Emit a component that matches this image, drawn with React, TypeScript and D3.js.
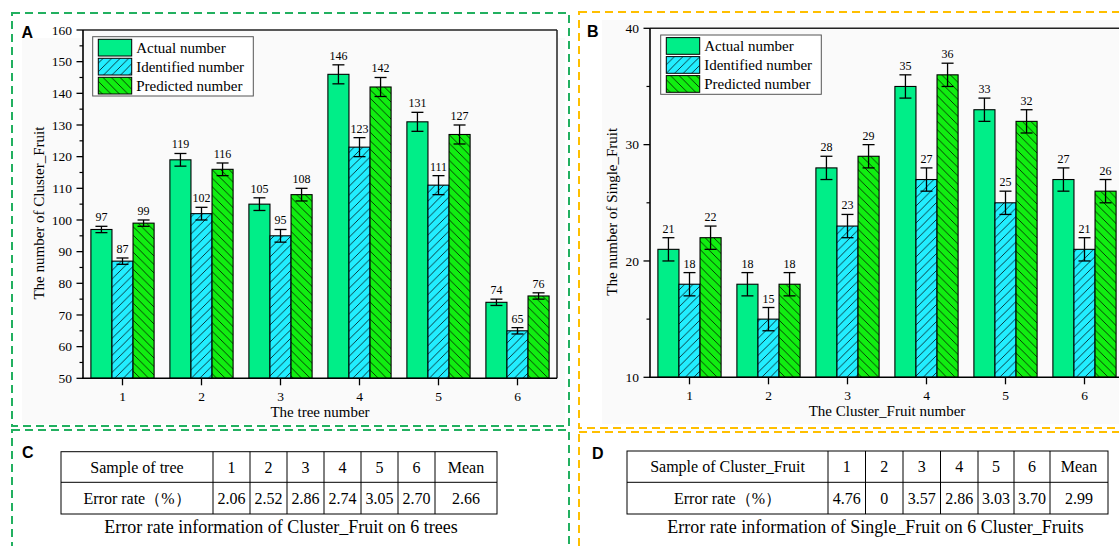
import React from "react";
import * as d3 from "d3";

// ---------- data ----------
const categories = ["1", "2", "3", "4", "5", "6"];
const seriesNames = ["Actual number", "Identified number", "Predicted number"];

const clusterActual = [97, 119, 105, 146, 131, 74];
const clusterIdentified = [87, 102, 95, 123, 111, 65];
const clusterPredicted = [99, 116, 108, 142, 127, 76];
const clusterActualErr = [1, 2, 2, 3, 3, 1];
const clusterIdentifiedErr = [1, 2, 2, 3, 3, 1];
const clusterPredictedErr = [1, 2, 2, 3, 3, 1];
const clusterTicks = [50, 60, 70, 80, 90, 100, 110, 120, 130, 140, 150, 160];

const singleActual = [21, 18, 28, 35, 33, 27];
const singleIdentified = [18, 15, 23, 27, 25, 21];
const singlePredicted = [22, 18, 29, 36, 32, 26];
const singleActualErr = [1, 1, 1, 1, 1, 1];
const singleIdentifiedErr = [1, 1, 1, 1, 1, 1];
const singlePredictedErr = [1, 1, 1, 1, 1, 1];
const singleTicks = [10, 20, 30, 40];

const tableCHeader = ["Sample of tree", "1", "2", "3", "4", "5", "6", "Mean"];
const tableCRow = ["Error rate（%）", "2.06", "2.52", "2.86", "2.74", "3.05", "2.70", "2.66"];
const tableDHeader = ["Sample of Cluster_Fruit", "1", "2", "3", "4", "5", "6", "Mean"];
const tableDRow = ["Error rate（%）", "4.76", "0", "3.57", "2.86", "3.03", "3.70", "2.99"];
const captionC = "Error rate information of Cluster_Fruit on 6 trees";
const captionD = "Error rate information of Single_Fruit on 6 Cluster_Fruits";

// ---------- style ----------
const SERIF = '"Times New Roman", "Liberation Serif", "DejaVu Serif", serif';
const SANS = 'Arial, "Liberation Sans", Helvetica, sans-serif';
const fills = ["#00EE88", "url(#hatchUp)", "url(#hatchDown)"];
const GREEN_BORDER = "#22B060";
const YELLOW_BORDER = "#FFBF00";
const BG = "#fafafa";

type Box = { left: number; right: number; top: number; bottom: number };

function Legend({ x, y }: { x: number; y: number }) {
  const w = 160.6;
  const h = 59.3;
  return (
    <g>
      <rect x={x} y={y} width={w} height={h} fill="#fff" stroke="#555" strokeWidth={1} />
      {seriesNames.map((name, i) => {
        const ry = y + 2.6 + i * 19;
        return (
          <g key={name}>
            <rect x={x + 5.6} y={ry} width={33.4} height={16.7} fill={fills[i]} stroke="#000" strokeWidth={1} />
            <text x={x + 43.5} y={ry + 13.3} fontFamily={SERIF} fontSize={15} fill="#000">
              {name}
            </text>
          </g>
        );
      })}
    </g>
  );
}

function BarChart(props: {
  series: number[][];
  errors: number[][];
  domain: [number, number];
  ticks: number[];
  box: Box;
  yTitle: string;
  xTitle: string;
  yTitleX: number;
  legend: [number, number];
}) {
  const { series, errors, domain, ticks, box, yTitle, xTitle, yTitleX, legend } = props;
  const { left, right, top, bottom } = box;
  const x = d3.scaleBand<string>().domain(categories).range([left, right]).padding(0);
  const bw = x.bandwidth();
  const inner = d3.scaleBand<string>().domain(seriesNames).range([bw * 0.1, bw * 0.9]).padding(0);
  const y = d3.scaleLinear().domain(domain).range([bottom, top]);
  const minor = ticks.slice(0, -1).map((t, i) => (t + ticks[i + 1]) / 2);
  const cap = 6;

  return (
    <g>
      <rect x={left} y={top} width={right - left} height={bottom - top} fill={BG} />
      {categories.map((c, ci) =>
        seriesNames.map((s, si) => {
          const v = series[si][ci];
          const e = errors[si][ci];
          const bx = (x(c) as number) + (inner(s) as number);
          const cx = bx + inner.bandwidth() / 2;
          return (
            <g key={c + s}>
              <rect
                x={bx}
                y={y(v)}
                width={inner.bandwidth()}
                height={bottom - y(v)}
                fill={fills[si]}
                stroke="#000"
                strokeWidth={1.1}
              />
              <g stroke="#000" strokeWidth={1.3}>
                <line x1={cx} x2={cx} y1={y(v + e)} y2={y(v - e)} />
                <line x1={cx - cap} x2={cx + cap} y1={y(v + e)} y2={y(v + e)} />
                <line x1={cx - cap} x2={cx + cap} y1={y(v - e)} y2={y(v - e)} />
              </g>
              <text x={cx} y={y(v + e) - 5} textAnchor="middle" fontFamily={SERIF} fontSize={12} fill="#000">
                {v}
              </text>
            </g>
          );
        })
      )}
      {/* frame */}
      <line x1={left} x2={right} y1={top} y2={top} stroke="#222" strokeWidth={1.5} />
      <line x1={right} x2={right} y1={top} y2={bottom} stroke="#222" strokeWidth={1.5} />
      <line x1={left} x2={left} y1={top} y2={bottom + 0.75} stroke="#000" strokeWidth={1.6} />
      <line x1={left - 0.75} x2={right} y1={bottom} y2={bottom} stroke="#000" strokeWidth={1.6} />
      {/* y ticks */}
      {ticks.map((t) => (
        <g key={"yt" + t}>
          <line x1={left - 6.5} x2={left} y1={y(t)} y2={y(t)} stroke="#000" strokeWidth={1.3} />
          <text x={left - 11} y={y(t)} dy="0.35em" textAnchor="end" fontFamily={SERIF} fontSize={13.5} fill="#000">
            {t}
          </text>
        </g>
      ))}
      {minor.map((t) => (
        <line key={"ym" + t} x1={left - 3.5} x2={left} y1={y(t)} y2={y(t)} stroke="#000" strokeWidth={1.2} />
      ))}
      {/* x ticks */}
      {categories.map((c) => {
        const cx = (x(c) as number) + bw / 2;
        return (
          <g key={"xt" + c}>
            <line x1={cx} x2={cx} y1={bottom} y2={bottom + 7} stroke="#000" strokeWidth={1.3} />
            <text x={cx} y={bottom + 22.5} textAnchor="middle" fontFamily={SERIF} fontSize={13.5} fill="#000">
              {c}
            </text>
          </g>
        );
      })}
      <text x={(left + right) / 2} y={bottom + 38.5} textAnchor="middle" fontFamily={SERIF} fontSize={15} fill="#000">
        {xTitle}
      </text>
      <text
        transform={`translate(${yTitleX},${(top + bottom) / 2 + 9}) rotate(-90)`}
        textAnchor="middle"
        fontFamily={SERIF}
        fontSize={15}
        fill="#000"
      >
        {yTitle}
      </text>
      <Legend x={legend[0]} y={legend[1]} />
    </g>
  );
}

function Table(props: {
  header: string[];
  row: string[];
  edges: number[];
  rows: number[];
  caption: string;
  captionX: number;
  captionY: number;
}) {
  const { header, row, edges, rows, caption, captionX, captionY } = props;
  const left = edges[0];
  const right = edges[edges.length - 1];
  return (
    <g>
      <rect x={left} y={rows[0]} width={right - left} height={rows[2] - rows[0]} fill="#fff" stroke="#000" strokeWidth={1} />
      <line x1={left} x2={right} y1={rows[1]} y2={rows[1]} stroke="#000" strokeWidth={1} />
      {edges.slice(1, -1).map((e, i) => (
        <line key={i} x1={e} x2={e} y1={rows[0]} y2={rows[2]} stroke="#000" strokeWidth={1} />
      ))}
      {[header, row].map((cells, ri) =>
        cells.map((t, ci) => (
          <text
            key={ri + "-" + ci}
            x={(edges[ci] + edges[ci + 1]) / 2}
            y={(rows[ri] + rows[ri + 1]) / 2 + 5.5}
            textAnchor="middle"
            fontFamily={SERIF}
            fontSize={16}
            fill="#000"
          >
            {t}
          </text>
        ))
      )}
      <text x={captionX} y={captionY} textAnchor="middle" fontFamily={SERIF} fontSize={18} fill="#000">
        {caption}
      </text>
    </g>
  );
}

export default function App() {
  const W = 1119;
  const H = 546;
  return (
    <svg
      width={W}
      height={H}
      viewBox={`0 0 ${W} ${H}`}
      style={{ position: "absolute", left: 0, top: 0, background: "#fff" }}
    >
      <defs>
        <pattern id="hatchUp" patternUnits="userSpaceOnUse" width={8.5} height={8.5}>
          <rect width={8.5} height={8.5} fill="#22EEFF" />
          <path d="M-2,2 L2,-2 M0,8.5 L8.5,0 M6.5,10.5 L10.5,6.5" stroke="#000" strokeWidth={0.75} />
        </pattern>
        <pattern id="hatchDown" patternUnits="userSpaceOnUse" width={8.5} height={8.5}>
          <rect width={8.5} height={8.5} fill="#11EE11" />
          <path d="M-2,6.5 L2,10.5 M0,0 L8.5,8.5 M6.5,-2 L10.5,2" stroke="#000" strokeWidth={0.75} />
        </pattern>
      </defs>

      {/* panel backgrounds */}
      <rect x={22} y={38} width={543} height={386} fill={BG} />
      <rect x={602} y={20} width={517} height={404} fill={BG} />

      {/* dashed panel borders */}
      <rect x={12} y={13} width={557} height={413} fill="none" stroke={GREEN_BORDER} strokeWidth={2} strokeDasharray="8 5" />
      <rect x={12} y={430} width={557} height={140} fill="none" stroke={GREEN_BORDER} strokeWidth={2} strokeDasharray="8 5" />
      <rect x={579} y={12} width={580} height={416} fill="none" stroke={YELLOW_BORDER} strokeWidth={2} strokeDasharray="8 5" />
      <rect x={579} y={432} width={580} height={140} fill="none" stroke={YELLOW_BORDER} strokeWidth={2} strokeDasharray="8 5" />

      <BarChart
        series={[clusterActual, clusterIdentified, clusterPredicted]}
        errors={[clusterActualErr, clusterIdentifiedErr, clusterPredictedErr]}
        domain={[50, 160]}
        ticks={clusterTicks}
        box={{ left: 83, right: 557, top: 30, bottom: 378.3 }}
        yTitle="The number of Cluster_Fruit"
        xTitle="The tree number"
        yTitleX={43.5}
        legend={[92.7, 36.7]}
      />
      <BarChart
        series={[singleActual, singleIdentified, singlePredicted]}
        errors={[singleActualErr, singleIdentifiedErr, singlePredictedErr]}
        domain={[10, 40]}
        ticks={singleTicks}
        box={{ left: 650, right: 1124, top: 28.3, bottom: 377.3 }}
        yTitle="The number of Single_Fruit"
        xTitle="The Cluster_Fruit number"
        yTitleX={617}
        legend={[660.7, 35]}
      />

      <Table
        header={tableCHeader}
        row={tableCRow}
        edges={[61, 213, 250, 287, 324, 361, 398, 435, 497]}
        rows={[451.7, 482.3, 514]}
        caption={captionC}
        captionX={281}
        captionY={533}
      />
      <Table
        header={tableDHeader}
        row={tableDRow}
        edges={[627, 828, 865.5, 903, 940.5, 978, 1014, 1050, 1108]}
        rows={[451, 482.3, 514]}
        caption={captionD}
        captionX={875.5}
        captionY={533}
      />

      {/* panel letters */}
      <text x={21.5} y={37.5} fontFamily={SANS} fontWeight="bold" fontSize={16} fill="#000">A</text>
      <text x={587} y={36.7} fontFamily={SANS} fontWeight="bold" fontSize={16} fill="#000">B</text>
      <text x={22} y={458} fontFamily={SANS} fontWeight="bold" fontSize={16} fill="#000">C</text>
      <text x={592} y={459} fontFamily={SANS} fontWeight="bold" fontSize={16} fill="#000">D</text>
    </svg>
  );
}
